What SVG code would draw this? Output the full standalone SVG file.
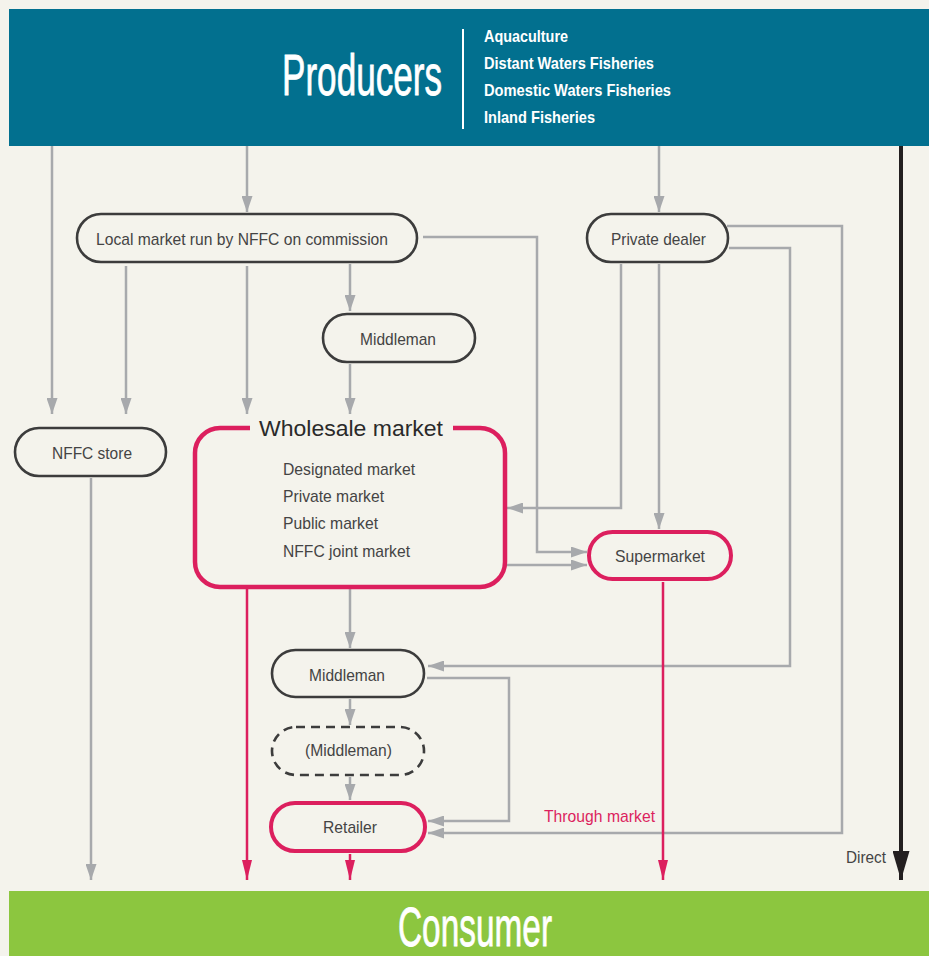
<svg xmlns="http://www.w3.org/2000/svg" width="929" height="956" viewBox="0 0 929 956">
  <style>
    .bg { fill: #f4f3ec; }
    .node { fill: #f4f3ec; stroke: #3c3c3c; stroke-width: 2.6; }
    .red { fill: #f4f3ec; stroke: #dc1f5e; stroke-width: 4; }
    .dash { fill: #f4f3ec; stroke: #3c3c3c; stroke-width: 2.6; stroke-dasharray: 9 6; }
    .lbl { font-family: "Liberation Sans", Arial, sans-serif; font-size: 17px; fill: #444444; }
    .g { fill: none; stroke: #a7a9ac; stroke-width: 2.5; }
    .r { fill: none; stroke: #dc1f5e; stroke-width: 2.5; }
    .band { font-family: "Liberation Sans", Arial, sans-serif; fill: #ffffff; stroke: #ffffff; stroke-width: 0.8; }
    .sub { font-family: "Liberation Sans", Arial, sans-serif; font-size: 17px; font-weight: bold; fill: #ffffff; }
  </style>
  <defs>
    <marker id="ag" markerUnits="userSpaceOnUse" viewBox="0 0 16 11" refX="16" refY="5.5" markerWidth="16" markerHeight="11" orient="auto">
      <path d="M0,0 L16,5.5 L0,11 z" fill="#a7a9ac"/>
    </marker>
    <marker id="ar" markerUnits="userSpaceOnUse" viewBox="0 0 20 10" refX="20" refY="5" markerWidth="20" markerHeight="10" orient="auto">
      <path d="M0,0 L20,5 L0,10 z" fill="#dc1f5e"/>
    </marker>
    <marker id="ab" markerUnits="userSpaceOnUse" viewBox="0 0 29 17" refX="29" refY="8.5" markerWidth="29" markerHeight="17" orient="auto">
      <path d="M0,0 L29,8.5 L0,17 z" fill="#231f20"/>
    </marker>
  </defs>

  <rect class="bg" x="0" y="0" width="929" height="956"/>

  <!-- Producers band -->
  <g id="producers">
    <rect x="9" y="9" width="920" height="137" fill="#02708f"/>
    <text class="band" x="282" y="95" font-size="58" textLength="160" lengthAdjust="spacingAndGlyphs">Producers</text>
    <line x1="463" y1="29" x2="463" y2="129" stroke="#ffffff" stroke-width="2"/>
    <text class="sub" x="484" y="42" textLength="84" lengthAdjust="spacingAndGlyphs">Aquaculture</text>
    <text class="sub" x="484" y="69" textLength="170" lengthAdjust="spacingAndGlyphs">Distant Waters Fisheries</text>
    <text class="sub" x="484" y="96" textLength="187" lengthAdjust="spacingAndGlyphs">Domestic Waters Fisheries</text>
    <text class="sub" x="484" y="123" textLength="111" lengthAdjust="spacingAndGlyphs">Inland Fisheries</text>
  </g>

  <!-- Consumer band -->
  <g id="consumer">
    <rect x="9" y="891" width="920" height="65" fill="#8cc63f"/>
    <text class="band" x="398" y="946" font-size="56" textLength="154" lengthAdjust="spacingAndGlyphs">Consumer</text>
  </g>

  <!-- Connectors -->
  <g id="connectors">
    <line class="g" x1="52" y1="146" x2="52" y2="414" marker-end="url(#ag)"/>
    <line class="g" x1="247" y1="146" x2="247" y2="212" marker-end="url(#ag)"/>
    <line class="g" x1="659" y1="146" x2="659" y2="212" marker-end="url(#ag)"/>
    <line class="g" x1="126" y1="266" x2="126" y2="414" marker-end="url(#ag)"/>
    <line class="g" x1="247" y1="266" x2="247" y2="414" marker-end="url(#ag)"/>
    <line class="g" x1="350" y1="264" x2="350" y2="311" marker-end="url(#ag)"/>
    <line class="g" x1="350" y1="364" x2="350" y2="414" marker-end="url(#ag)"/>
    <polyline class="g" points="423,237 537,237 537,552 587,552" marker-end="url(#ag)"/>
    <line class="g" x1="505" y1="565" x2="587" y2="565" marker-end="url(#ag)"/>
    <polyline class="g" points="621,264 621,508 507,508" marker-end="url(#ag)"/>
    <line class="g" x1="659" y1="264" x2="659" y2="529" marker-end="url(#ag)"/>
    <polyline class="g" points="729,248 790,248 790,666 428,666" marker-end="url(#ag)"/>
    <polyline class="g" points="727,226 842,226 842,833 428,833" marker-end="url(#ag)"/>
    <polyline class="g" points="427,678 509,678 509,821 428,821" marker-end="url(#ag)"/>
    <line class="g" x1="350" y1="589" x2="350" y2="648" marker-end="url(#ag)"/>
    <line class="g" x1="350" y1="699" x2="350" y2="725" marker-end="url(#ag)"/>
    <line class="g" x1="350" y1="777" x2="350" y2="800" marker-end="url(#ag)"/>
    <line class="g" x1="91" y1="478" x2="91" y2="880" marker-end="url(#ag)"/>
    <line class="r" x1="247" y1="589" x2="247" y2="880" marker-end="url(#ar)"/>
    <line class="r" x1="350" y1="854" x2="350" y2="880" marker-end="url(#ar)"/>
    <line class="r" x1="663" y1="582" x2="663" y2="880" marker-end="url(#ar)"/>
    <line x1="901" y1="146" x2="901" y2="880" stroke="#231f20" stroke-width="4" marker-end="url(#ab)"/>
    <text class="lbl" x="544" y="822" textLength="111" lengthAdjust="spacingAndGlyphs" style="fill:#dc1f5e">Through market</text>
    <text class="lbl" x="846" y="863" textLength="40" lengthAdjust="spacingAndGlyphs">Direct</text>
  </g>

  <!-- Nodes -->
  <g id="local-market">
    <rect class="node" x="77" y="214" width="340" height="48" rx="24"/>
    <text class="lbl" x="96" y="245" textLength="292" lengthAdjust="spacingAndGlyphs">Local market run by NFFC on commission</text>
  </g>
  <g id="middleman-top">
    <rect class="node" x="323" y="314" width="152" height="48" rx="24"/>
    <text class="lbl" x="360" y="345" textLength="76" lengthAdjust="spacingAndGlyphs">Middleman</text>
  </g>
  <g id="private-dealer">
    <rect class="node" x="587" y="214" width="141" height="48" rx="24"/>
    <text class="lbl" x="611" y="245" textLength="95" lengthAdjust="spacingAndGlyphs">Private dealer</text>
  </g>
  <g id="nffc-store">
    <rect class="node" x="15" y="428" width="151" height="48" rx="24"/>
    <text class="lbl" x="52" y="459" textLength="80" lengthAdjust="spacingAndGlyphs">NFFC store</text>
  </g>
  <g id="wholesale-market">
    <path d="M453,428 H480 A25,25 0 0 1 505,453 V562 A25,25 0 0 1 480,587 H220 A25,25 0 0 1 195,562 V453 A25,25 0 0 1 220,428 H250" fill="none" stroke="#dc1f5e" stroke-width="4.5"/>
    <text x="259" y="436" font-family="Liberation Sans, Arial, sans-serif" font-size="22" fill="#2a2a2a" textLength="184" lengthAdjust="spacingAndGlyphs">Wholesale market</text>
    <text class="lbl" x="283" y="475" textLength="132" lengthAdjust="spacingAndGlyphs">Designated market</text>
    <text class="lbl" x="283" y="502" textLength="101" lengthAdjust="spacingAndGlyphs">Private market</text>
    <text class="lbl" x="283" y="529" textLength="95" lengthAdjust="spacingAndGlyphs">Public market</text>
    <text class="lbl" x="283" y="557" textLength="127" lengthAdjust="spacingAndGlyphs">NFFC joint market</text>
  </g>
  <g id="supermarket">
    <rect class="red" x="589" y="532" width="142" height="47" rx="23.5"/>
    <text class="lbl" x="615" y="562" textLength="90" lengthAdjust="spacingAndGlyphs">Supermarket</text>
  </g>
  <g id="middleman-lower">
    <rect class="node" x="272" y="650" width="152" height="47" rx="23.5"/>
    <text class="lbl" x="309" y="681" textLength="76" lengthAdjust="spacingAndGlyphs">Middleman</text>
  </g>
  <g id="middleman-optional">
    <rect class="dash" x="272" y="727" width="152" height="48" rx="24"/>
    <text class="lbl" x="305" y="756" textLength="87" lengthAdjust="spacingAndGlyphs">(Middleman)</text>
  </g>
  <g id="retailer">
    <rect class="red" x="271" y="803" width="154" height="48" rx="24"/>
    <text class="lbl" x="323" y="833" textLength="54" lengthAdjust="spacingAndGlyphs">Retailer</text>
  </g>
</svg>
